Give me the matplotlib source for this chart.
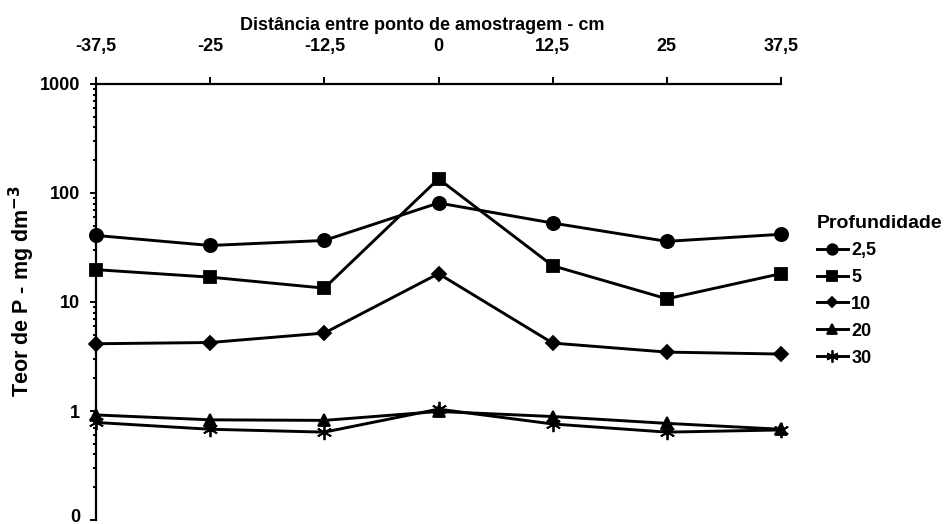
import numpy as np
import matplotlib
matplotlib.use("Agg")
import matplotlib.pyplot as plt
import matplotlib.transforms as mtransforms
from matplotlib.ticker import FixedLocator, LogLocator, NullFormatter

plt.rcParams['font.family'] = ['Liberation Sans', 'DejaVu Sans']
plt.rcParams['font.weight'] = 'bold'

# distancias (cm) e teores de P por profundidade
dist = [-37.5, -25, -12.5, 0, 12.5, 25, 37.5]
dist_labels = ["-37,5", "-25", "-12,5", "0", "12,5", "25", "37,5"]
p_2_5 = [40.8, 33.0, 36.7, 81.0, 53.0, 36.0, 41.8]
p_5 = [19.8, 16.9, 13.4, 135.0, 21.5, 10.7, 18.2]
p_10 = [4.14, 4.25, 5.19, 18.2, 4.2, 3.47, 3.33]
p_20 = [0.92, 0.83, 0.82, 0.99, 0.89, 0.77, 0.68]
p_30 = [0.785, 0.68, 0.64, 1.04, 0.76, 0.64, 0.67]
series_labels = ["2,5", "5", "10", "20", "30"]
yticks = [0.1, 1, 10, 100, 1000]
ytick_labels = ["0", "1", "10", "100", "1000"]

fig = plt.figure(figsize=(9.51, 5.24), dpi=100)
ax = fig.add_axes([96/951, 4/524, 685/951, 436/524])

styles = [("o", 9.5), ("s", 9), ("D", 7), ("^", 8.5), ((6, 2, 0), 11)]
for vals, lab, (mk, ms) in zip([p_2_5, p_5, p_10, p_20, p_30], series_labels, styles):
    ax.plot(dist, vals, color="black", lw=2.1, marker=mk, ms=ms, mew=1.3,
            mfc="black", mec="black", label=lab, clip_on=False, zorder=3)

ax.set_yscale("log")
ax.set_ylim(0.1, 1000)
ax.set_xlim(-37.5, 37.5)
ax.yaxis.set_major_locator(FixedLocator(yticks))
ax.set_yticklabels(ytick_labels)
ax.yaxis.set_minor_locator(LogLocator(base=10, subs=np.arange(2, 10)))
ax.yaxis.set_minor_formatter(NullFormatter())

ax.xaxis.tick_top()
ax.xaxis.set_label_position("top")
ax.set_xticks(dist)
ax.set_xticklabels(dist_labels)
ax.tick_params(axis="y", which="major", direction="out", length=4.5, width=1.4,
               labelsize=13, pad=7)
ax.tick_params(axis="y", which="minor", direction="out", length=2.5, width=1.4)
ax.tick_params(axis="x", which="major", direction="out", length=5, width=1.4,
               labelsize=13, pad=16)
for s in ["right", "bottom"]:
    ax.spines[s].set_visible(False)
for s in ["left", "top"]:
    ax.spines[s].set_linewidth(1.6)

# nudge the bottom "0" label up so it stays inside the figure
fig.canvas.draw()
for lbl in ax.get_yticklabels():
    if lbl.get_text() == "0":
        lbl.set_transform(lbl.get_transform() +
                          mtransforms.ScaledTranslation(0, 5/100, fig.dpi_scale_trans))

ax.set_xlabel("Distância entre ponto de amostragem - cm", fontsize=13,
              fontweight="bold", va="center")
ax.xaxis.set_label_coords(0.476, (520 - 26) / 436)
ax.set_ylabel("Teor de P - mg dm$^{\\mathbf{-3}}$", fontsize=15.5,
              fontweight="bold", va="center")
ax.yaxis.set_label_coords((22 - 96) / 685, (520 - 291) / 436)

leg = fig.legend(loc="upper left", bbox_to_anchor=(817/951, 1 - 215/524),
                 frameon=False, title="Profundidade", fontsize=13,
                 title_fontproperties={"weight": "bold", "size": 14},
                 handlelength=1.7, handletextpad=0.2, labelspacing=0.55,
                 markerscale=0.8, borderaxespad=0, borderpad=0, alignment="left")

fig.savefig("out.png", dpi=100)
